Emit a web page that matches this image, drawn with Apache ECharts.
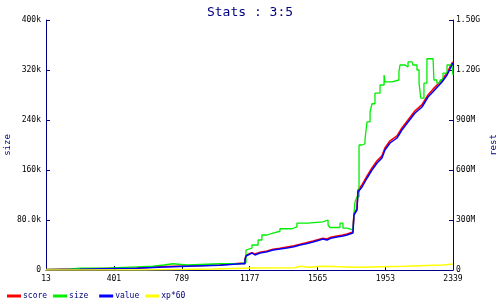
<!DOCTYPE html>
<html><head><meta charset="utf-8">
<script src="https://cdn.jsdelivr.net/npm/echarts@6/dist/echarts.min.js"></script>
<style>html,body{margin:0;padding:0;background:#fff}#c{width:500px;height:300px}</style>
</head><body><div id="c"></div>
<script>
const titleText = 'Stats : 3:5';
const seriesNames = ['score', 'size', 'value', 'xp*60'];
const xTicks = [13, 401, 789, 1177, 1565, 1953, 2339];
const leftTickLabels = ['0', '80.0k', '160k', '240k', '320k', '400k'];
const rightTickLabels = ['0', '300M', '600M', '900M', '1.20G', '1.50G'];

// size (left axis, in units), [x, value]
const sizeData = [
  [13,1000],[127,3000],[207,3000],[356,5000],[533,6000],[624,8000],[687,10000],[739,8000],[819,10000],
  [1007,10000],[1122,12000],[1156,32000],[1167,35000],[1190,40000],[1225,48000],[1247,56000],[1276,59000],
  [1310,62000],[1350,66000],[1419,69000],[1447,75000],[1510,77000],[1596,80000],[1625,72000],[1636,68000],
  [1693,75000],[1710,67000],[1733,64000],[1767,64000],[1773,91000],[1779,109000],[1790,117000],
  [1802,200000],[1819,202000],[1836,208000],[1842,224000],[1848,237000],[1865,253000],[1876,266000],
  [1893,283000],[1922,296000],[1945,312000],[1950,301000],[1990,301000],[1996,304000],[2030,317000],
  [2036,328000],[2065,325000],[2082,333000],[2105,333000],[2110,328000],[2133,320000],[2145,299000],
  [2155,275000],[2173,299000],[2190,338000],[2225,338000],[2230,304000],[2247,299000],[2265,304000],
  [2282,315000],[2305,328000],[2333,328000],[2339,312000]
];

// score (right axis, in M)
const scoreData = [
  [13,3],[207,6],[356,9],[533,12],[687,20],[819,24],[1007,30],[1122,40],[1150,40],[1150,62],[1156,88],
  [1190,104],[1207,96],[1236,106],[1276,114],[1310,124],[1350,130],[1390,138],[1430,146],[1465,154],
  [1500,164],[1539,174],[1596,190],[1619,186],[1640,196],[1676,204],[1710,210],[1733,216],[1750,222],
  [1767,228],[1773,228],[1773,340],[1790,366],[1796,366],[1796,480],[1819,510],[1848,565],[1876,612],
  [1905,655],[1933,685],[1950,732],[1979,775],[2019,805],[2047,852],[2082,900],[2122,955],[2162,992],
  [2196,1050],[2225,1085],[2236,1092],[2276,1140],[2305,1182],[2333,1242],[2339,1248]
];

// value (right axis, in M)
const valueData = [
  [13,2],[207,5],[356,8],[533,10],[687,18],[819,22],[1007,28],[1122,38],[1150,38],[1150,60],[1156,84],
  [1190,102],[1207,90],[1236,102],[1276,110],[1310,120],[1350,126],[1390,132],[1430,140],[1465,150],
  [1500,158],[1539,168],[1596,186],[1619,180],[1640,190],[1676,198],[1710,204],[1733,210],[1750,216],
  [1767,222],[1773,222],[1773,330],[1790,360],[1796,360],[1796,468],[1819,498],[1848,552],[1876,600],
  [1905,642],[1933,672],[1950,720],[1979,762],[2019,792],[2047,840],[2082,888],[2122,942],[2162,978],
  [2196,1038],[2225,1070],[2236,1080],[2276,1128],[2305,1170],[2333,1230],[2339,1242]
];

// xp*60 (right axis, in M)
const xpData = [
  [13,0],[567,6],[967,12],[1196,14],[1436,22],[1465,16],[1516,22],[1596,16],[1790,22],[2065,30],[2282,36],[2339,36]
];

const navy = '#000080';
const mono = 'DejaVu Sans Mono';
const chart = echarts.init(document.getElementById('c'), null, {renderer: 'canvas'});
chart.setOption({
  animation: false,
  backgroundColor: '#fff',
  title: {text: titleText, left: 'center', top: 1, textStyle: {color: navy, fontFamily: mono, fontSize: 13, fontWeight: 'normal'}},
  legend: {
    data: seriesNames, left: 2, top: 287, itemWidth: 14, itemHeight: 3, itemGap: 6, icon: 'rect',
    formatter: n => n.padEnd(5, ' '),
    textStyle: {color: navy, fontFamily: mono, fontSize: 8, padding: [0,0,0,-3]}
  },
  grid: {left: 46, right: 47, top: 20, bottom: 30, containLabel: false, outerBoundsMode: 'none'},
  xAxis: {
    type: 'value', min: 13, max: 2339,
    axisLine: {show: true, lineStyle: {color: navy, width: 1}},
    axisTick: {show: true, inside: true, length: 4, customValues: xTicks, lineStyle: {color: navy}},
    axisLabel: {customValues: xTicks, color: '#000', fontFamily: mono, fontSize: 8, margin: 5,
      formatter: v => String(v)},
    splitLine: {show: false}
  },
  yAxis: [
    {
      type: 'value', min: 0, max: 400000, interval: 80000, position: 'left',
      name: 'size', nameLocation: 'middle', nameGap: 34, nameRotate: 90, nameMoveOverlap: false,
      nameTextStyle: {color: navy, fontFamily: mono, fontSize: 9},
      axisLine: {show: true, lineStyle: {color: navy, width: 1}},
      axisTick: {show: true, inside: true, length: 4, lineStyle: {color: navy}},
      axisLabel: {color: '#000', fontFamily: mono, fontSize: 8, margin: 5,
        formatter: v => leftTickLabels[Math.round(v / 80000)]},
      splitLine: {show: false}
    },
    {
      type: 'value', min: 0, max: 1500, interval: 300, position: 'right',
      name: 'rest', nameLocation: 'middle', nameGap: 36, nameRotate: 90, nameMoveOverlap: false,
      nameTextStyle: {color: navy, fontFamily: mono, fontSize: 9},
      axisLine: {show: true, lineStyle: {color: navy, width: 1}},
      axisTick: {show: true, inside: true, length: 4, lineStyle: {color: navy}},
      axisLabel: {color: '#000', fontFamily: mono, fontSize: 8, margin: 3,
        formatter: v => rightTickLabels[Math.round(v / 300)]},
      splitLine: {show: false}
    }
  ],
  series: [
    {name: 'score', type: 'line', yAxisIndex: 1, data: scoreData, showSymbol: false, symbol: 'none',
      color: '#ff0000', lineStyle: {color: '#ff0000', width: 1.6}},
    {name: 'size', type: 'line', yAxisIndex: 0, data: sizeData, step: 'end', showSymbol: false, symbol: 'none',
      color: '#00ee00', lineStyle: {color: '#00ee00', width: 1.3}},
    {name: 'value', type: 'line', yAxisIndex: 1, data: valueData, showSymbol: false, symbol: 'none',
      color: '#0000ff', lineStyle: {color: '#0000ff', width: 1.5}},
    {name: 'xp*60', type: 'line', yAxisIndex: 1, data: xpData, step: 'end', showSymbol: false, symbol: 'none',
      color: '#ffff00', lineStyle: {color: '#ffff00', width: 1.5}}
  ]
});
</script></body></html>
